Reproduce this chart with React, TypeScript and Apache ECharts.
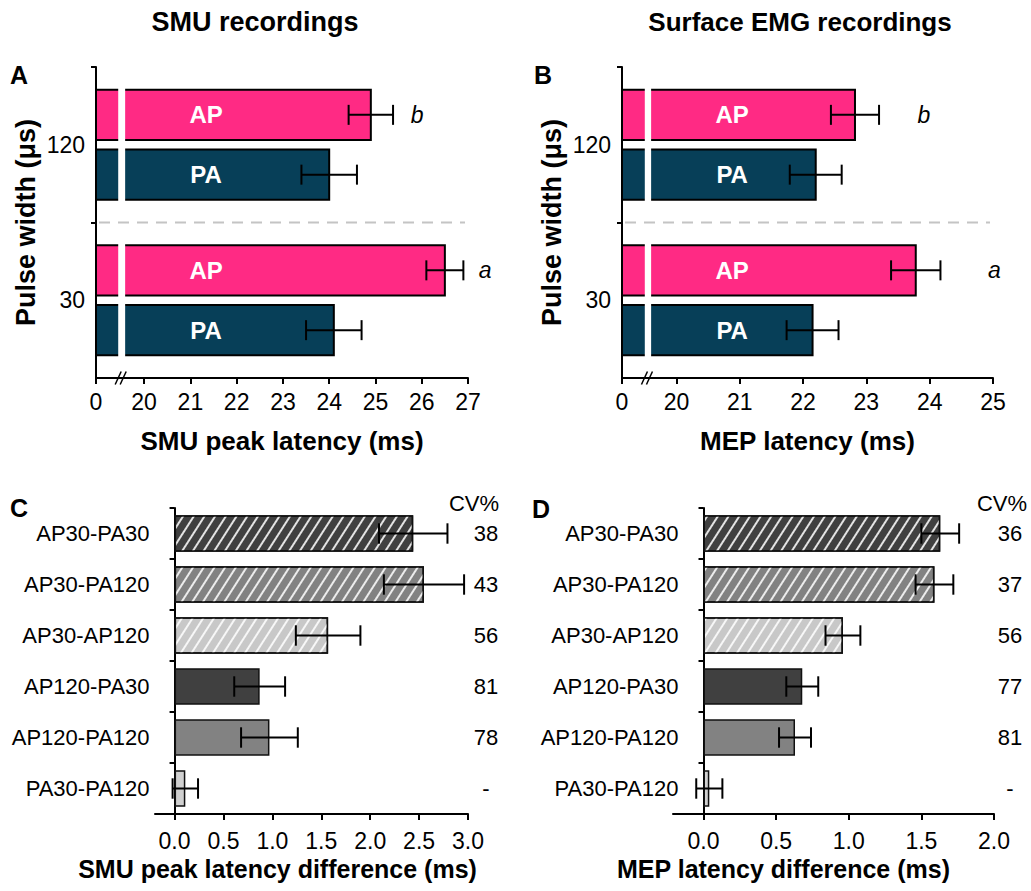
import React, { useEffect, useRef } from 'react';
import * as echarts from 'echarts';

// ---------------- data ----------------
const pulseWidths = ['30', '120'];
const sigLetters = ['a', 'b'];

const smuAP = [26.5, 24.9];
const smuAPErr = [0.4, 0.48];
const smuPA = [24.1, 24.0];
const smuPAErr = [0.6, 0.6];

const mepAP = [23.78, 22.82];
const mepAPErr = [0.39, 0.38];
const mepPA = [22.15, 22.2];
const mepPAErr = [0.41, 0.41];

const latencyTicksSMU = [20, 21, 22, 23, 24, 25, 26, 27];
const latencyTicksMEP = [20, 21, 22, 23, 24, 25];

const pairs = ['AP30-PA30', 'AP30-PA120', 'AP30-AP120', 'AP120-PA30', 'AP120-PA120', 'PA30-PA120'];
const smuDiff = [2.44, 2.55, 1.57, 0.87, 0.97, 0.11];
const smuDiffErr = [0.35, 0.41, 0.33, 0.26, 0.29, 0.13];
const smuCV = ['38', '43', '56', '81', '78', '-'];
const mepDiff = [1.63, 1.59, 0.96, 0.68, 0.63, 0.04];
const mepDiffErr = [0.13, 0.13, 0.12, 0.11, 0.11, 0.09];
const mepCV = ['36', '37', '56', '77', '81', '-'];
const diffTicksSMU = [0, 0.5, 1, 1.5, 2, 2.5, 3];
const diffTicksMEP = [0, 0.5, 1, 1.5, 2];

// ---------------- styles / layout ----------------
const FONT = "'Liberation Sans', Arial, Helvetica, sans-serif";
const PINK = '#FF2A84';
const TEAL = '#073F58';
const pairColors = ['#404040', '#828282', '#c8c8c8', '#404040', '#828282', '#d0d0d0'];
const pairHatched = [true, true, true, false, false, false];

const GROUP_BASE = 0.8;
const GROUP_STEP = 2.6;
const BAR_H = 0.84;
const Y_MAX = 5.2;
const DIVIDER = 2.6;

const latPanels = [
  {
    grid: { left: 96, top: 67, width: 372, height: 311 },
    xMin: 18.96, xMax: 27, ticks: latencyTicksSMU,
    breakLo: 19.44, breakHi: 19.59, labelX: 21.34, letterX: [27.37, 25.9],
    ap: smuAP, apErr: smuAPErr, pa: smuPA, paErr: smuPAErr,
    xName: 'SMU peak latency (ms)',
  },
  {
    grid: { left: 622, top: 67, width: 371, height: 311 },
    xMin: 19.14, xMax: 25, ticks: latencyTicksMEP,
    breakLo: 19.5, breakHi: 19.6, labelX: 20.88, letterX: [25.02, 23.91],
    ap: mepAP, apErr: mepAPErr, pa: mepPA, paErr: mepPAErr,
    xName: 'MEP latency (ms)',
  },
];

const diffPanels = [
  {
    grid: { left: 155, top: 508, width: 313, height: 306 },
    xMin: -0.2, xMax: 3, ticks: diffTicksSMU, diff: smuDiff, err: smuDiffErr, cv: smuCV,
    xName: 'SMU peak latency difference (ms)', namePad: 68, cvMargin: 18,
  },
  {
    grid: { left: 673, top: 508, width: 321, height: 306 },
    xMin: -0.21, xMax: 2, ticks: diffTicksMEP, diff: mepDiff, err: mepDiffErr, cv: mepCV,
    xName: 'MEP latency difference (ms)', namePad: 100, cvMargin: 16,
  },
];

const axisLineStyle = { color: '#000', width: 2 };
const labelStyle = (size: number) => ({ color: '#000', fontSize: size, fontFamily: FONT });
const nameStyle = { color: '#000', fontSize: 25, fontWeight: 'bold' as const, fontFamily: FONT };

const HATCH = {
  symbol: 'rect',
  symbolSize: 1,
  color: 'rgba(255,255,255,0.85)',
  dashArrayX: [1, 0],
  dashArrayY: [1.2, 6.6],
  rotation: -1.0,
};

function txt(text: string, x: number, y: number, font: string, fill = '#000', align = 'center') {
  return {
    type: 'text',
    x,
    y,
    style: { text, fill, font, align, verticalAlign: 'middle', textAlign: align, textVerticalAlign: 'middle' },
  };
}

function buildOption() {
  const grid: any[] = [];
  const xAxis: any[] = [];
  const yAxis: any[] = [];
  const series: any[] = [];

  latPanels.forEach((p, i) => {
    grid.push({ ...p.grid, containLabel: false });
    const tickVals = [p.xMin, ...p.ticks];
    xAxis.push({
      type: 'value', gridIndex: i, min: p.xMin, max: p.xMax,
      axisLine: { show: true, onZero: false, lineStyle: axisLineStyle },
      axisTick: { show: true, customValues: tickVals, length: 6, lineStyle: axisLineStyle },
      axisLabel: {
        customValues: tickVals, margin: 12, ...labelStyle(23),
        formatter: (v: number) => (v < p.ticks[0] ? '0' : String(Math.round(v))),
      },
      splitLine: { show: false },
      name: p.xName, nameLocation: 'middle', nameGap: 50, nameTextStyle: { ...nameStyle, fontSize: 26 },
    });
    yAxis.push({
      type: 'value', gridIndex: i, min: 0, max: Y_MAX,
      axisLine: { show: true, onZero: false, lineStyle: axisLineStyle },
      axisTick: { show: true, customValues: [DIVIDER, Y_MAX], length: 5, lineStyle: axisLineStyle },
      axisLabel: {
        customValues: pulseWidths.map((_, g) => GROUP_BASE + g * GROUP_STEP + 0.5),
        margin: 11, ...labelStyle(23),
        formatter: (v: number) => pulseWidths[Math.round((v - GROUP_BASE - 0.5) / GROUP_STEP)],
      },
      splitLine: { show: false },
      name: 'Pulse width (μs)', nameLocation: 'middle', nameGap: 57, nameRotate: 90,
      nameTextStyle: { ...nameStyle, fontSize: 27 },
    });

    const data: number[][] = [];
    pulseWidths.forEach((_, g) => {
      data.push([p.pa[g], g, 0, p.paErr[g]]);
      data.push([p.ap[g], g, 1, p.apErr[g]]);
    });
    series.push({
      type: 'custom', xAxisIndex: i, yAxisIndex: i, clip: false, z: 5,
      data,
      renderItem: (params: any, api: any) => {
        const mean = api.value(0), g = api.value(1), t = api.value(2), err = api.value(3);
        const yc = GROUP_BASE + g * GROUP_STEP + t;
        const s = api.coord([p.xMin, yc]);
        const e = api.coord([mean, yc]);
        const h = api.size([0, BAR_H])[1];
        const bLo = api.coord([p.breakLo, yc])[0];
        const bHi = api.coord([p.breakHi, yc])[0];
        const lx = api.coord([p.labelX, yc])[0];
        const eLo = api.coord([mean - err, yc])[0];
        const eHi = api.coord([mean + err, yc])[0];
        const y = s[1];
        const cap = 10;
        const ln = { stroke: '#000', lineWidth: 2 };
        const children: any[] = [
          { type: 'rect', shape: { x: s[0], y: y - h / 2, width: e[0] - s[0], height: h }, style: { fill: t ? PINK : TEAL, stroke: '#000', lineWidth: 2 } },
          { type: 'rect', shape: { x: bLo, y: y - h / 2 - 2, width: bHi - bLo, height: h + 4 }, style: { fill: '#fff' } },
          txt(t ? 'AP' : 'PA', lx, y, `bold 24px ${FONT}`, '#fff'),
          { type: 'line', shape: { x1: eLo, y1: y, x2: eHi, y2: y }, style: ln },
          { type: 'line', shape: { x1: eLo, y1: y - cap, x2: eLo, y2: y + cap }, style: ln },
          { type: 'line', shape: { x1: eHi, y1: y - cap, x2: eHi, y2: y + cap }, style: ln },
        ];
        if (t === 1) {
          children.push(txt(sigLetters[g], api.coord([p.letterX[g], yc])[0], y, `italic 23px ${FONT}`));
        }
        return { type: 'group', children };
      },
    });
    // divider line and axis break marks
    series.push({
      type: 'custom', xAxisIndex: i, yAxisIndex: i, clip: false, z: 4,
      data: [[p.xMin, DIVIDER]],
      renderItem: (params: any, api: any) => {
        const a = api.coord([p.xMin, DIVIDER]);
        const b = api.coord([p.xMax, DIVIDER]);
        const m = api.coord([(p.breakLo + p.breakHi) / 2, 0]);
        const sl = { stroke: '#000', lineWidth: 1.5 };
        return {
          type: 'group',
          children: [
            { type: 'line', shape: { x1: a[0] + 3, y1: a[1], x2: b[0] - 3, y2: b[1] }, style: { stroke: '#c4c4c4', lineWidth: 2, lineDash: [11, 8] } },
            { type: 'line', shape: { x1: m[0] - 6.5, y1: m[1] + 6.5, x2: m[0] - 0.5, y2: m[1] - 6.5 }, style: sl },
            { type: 'line', shape: { x1: m[0] - 1.5, y1: m[1] + 6.5, x2: m[0] + 4.5, y2: m[1] - 6.5 }, style: sl },
          ],
        };
      },
    });
  });

  diffPanels.forEach((p, k) => {
    const gi = 2 + k;
    grid.push({ ...p.grid, containLabel: false });
    xAxis.push({
      type: 'value', gridIndex: gi, min: p.xMin, max: p.xMax,
      axisLine: { show: true, onZero: false, lineStyle: axisLineStyle },
      axisTick: { show: true, customValues: p.ticks, length: 6, lineStyle: axisLineStyle },
      axisLabel: { customValues: p.ticks, margin: 15, ...labelStyle(23), formatter: (v: number) => v.toFixed(1) },
      splitLine: { show: false },
      name: p.xName, nameLocation: 'middle', nameGap: 42,
      nameTextStyle: { ...nameStyle, padding: [0, p.namePad, 0, 0] },
    });
    // y axis sits on x = 0, inside the grid's left edge
    const zeroShift = ((0 - p.xMin) / (p.xMax - p.xMin)) * p.grid.width;
    const leftIdx = yAxis.length;
    yAxis.push({
      type: 'category', gridIndex: gi, data: pairs, inverse: true, offset: -zeroShift,
      axisLine: { show: true, onZero: false, lineStyle: axisLineStyle },
      axisTick: { show: true, length: 5, lineStyle: axisLineStyle },
      axisLabel: { margin: 25, ...labelStyle(22) },
    });
    yAxis.push({
      type: 'category', gridIndex: gi, data: p.cv, inverse: true, position: 'right',
      axisLine: { show: false, onZero: false },
      axisTick: { show: false },
      axisLabel: { margin: p.cvMargin, align: 'center', ...labelStyle(22) },
    });
    series.push({
      type: 'bar', xAxisIndex: gi, yAxisIndex: leftIdx, barWidth: '72%', z: 3,
      data: p.diff.map((v, i) => ({
        value: v,
        itemStyle: {
          color: pairColors[i], borderColor: '#111', borderWidth: 1.5,
          ...(pairHatched[i] ? { decal: HATCH } : {}),
        },
      })),
    });
    series.push({
      type: 'custom', xAxisIndex: gi, yAxisIndex: leftIdx, clip: false, z: 6,
      data: p.diff.map((v, i) => [v, i, p.err[i]]),
      renderItem: (params: any, api: any) => {
        const mean = api.value(0), i = api.value(1), err = api.value(2);
        const lo = api.coord([mean - err, i]);
        const hi = api.coord([mean + err, i]);
        const cap = api.size([0, 1])[1] * 0.2;
        const ln = { stroke: '#000', lineWidth: 2 };
        return {
          type: 'group',
          children: [
            { type: 'line', shape: { x1: lo[0], y1: lo[1], x2: hi[0], y2: hi[1] }, style: ln },
            { type: 'line', shape: { x1: lo[0], y1: lo[1] - cap, x2: lo[0], y2: lo[1] + cap }, style: ln },
            { type: 'line', shape: { x1: hi[0], y1: hi[1] - cap, x2: hi[0], y2: hi[1] + cap }, style: ln },
          ],
        };
      },
    });
  });

  const graphic = [
    txt('SMU recordings', 255, 22, `bold 27px ${FONT}`),
    txt('Surface EMG recordings', 800, 22, `bold 26px ${FONT}`),
    txt('A', 19, 75, `bold 25px ${FONT}`),
    txt('B', 543, 75, `bold 25px ${FONT}`),
    txt('C', 19, 508, `bold 25px ${FONT}`),
    txt('D', 541, 509, `bold 25px ${FONT}`),
    txt('CV%', 474, 503, `22px ${FONT}`),
    txt('CV%', 1002, 503, `22px ${FONT}`),
  ];

  return {
    animation: false,
    backgroundColor: '#fff',
    textStyle: { fontFamily: FONT },
    grid, xAxis, yAxis, series, graphic,
  };
}

export default function App() {
  const ref = useRef<HTMLDivElement>(null);
  useEffect(() => {
    const chart = echarts.init(ref.current as HTMLDivElement, null, { renderer: 'svg' });
    chart.setOption(buildOption() as any);
    return () => chart.dispose();
  }, []);
  return (
    <div
      ref={ref}
      style={{ position: 'fixed', left: 0, top: 0, width: 1031, height: 891, background: '#fff' }}
    />
  );
}
